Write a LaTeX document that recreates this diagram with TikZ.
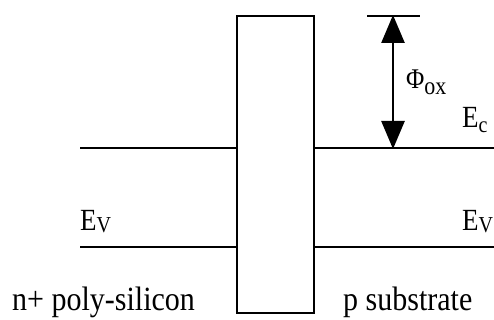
\documentclass[tikz,border=0pt]{standalone}
\usepackage{fontspec}
\setmainfont{Liberation Serif}
\usetikzlibrary{arrows.meta}
\tikzset{
  band/.style={line width=2.6pt},
  lbl/.style={inner sep=0pt, anchor=base west, yscale=1.14, font=\fontsize{27}{30}\selectfont},
  bigl/.style={inner sep=0pt, anchor=base west, yscale=1.13, font=\fontsize{30}{34}\selectfont},
  dim/.style={line width=2.6pt, {Triangle[width=23pt,length=28pt]}-{Triangle[width=23pt,length=28pt]}, shorten >=-1pt, shorten <=-1pt}
}
\newcommand{\sbs}[2]{\raisebox{-#1}{\fontsize{20}{20}\selectfont #2}}
\begin{document}
\begin{tikzpicture}[x=1pt,y=-1pt]
\useasboundingbox (0,0) rectangle (494,320);
% oxide box
\node[draw, line width=2.6pt, minimum width=77pt, minimum height=297pt, inner sep=0pt] (ox) at (275.5,164.5) {};
% band edge end points
\coordinate (ecL) at (80,148);
\coordinate (ecR) at (494,148);
\coordinate (evL) at (80,247);
\coordinate (evR) at (494,247);
\draw[band] (ecL) -- (ecL -| ox.west);
\draw[band] (ox.east |- ecR) -- (ecR);
\draw[band] (evL) -- (evL -| ox.west);
\draw[band] (ox.east |- evR) -- (evR);
% barrier height
\coordinate (barL) at (367,16);
\coordinate (barR) at (420,16);
\coordinate (atop) at (393,16);
\coordinate (abot) at (393,148);
\draw[band] (barL) -- (barR);
\draw[dim] (atop) -- (abot);
% labels
\node[lbl, font=\fontsize{25}{28}\selectfont] (phi) at (406,89) {Φ\raisebox{-5pt}{\fontsize{22}{22}\selectfont ox}};
\node[lbl] (ec) at (462,128) {E\sbs{4pt}{c}};
\node[lbl] (evl) at (80,230) {E\sbs{2pt}{V}};
\node[lbl] (evr) at (462,230) {E\sbs{2pt}{V}};
\node[bigl] (nplus) at (12,310) {n+ poly-silicon};
\node[bigl] (psub) at (343,310) {p substrate};
\end{tikzpicture}
\end{document}
